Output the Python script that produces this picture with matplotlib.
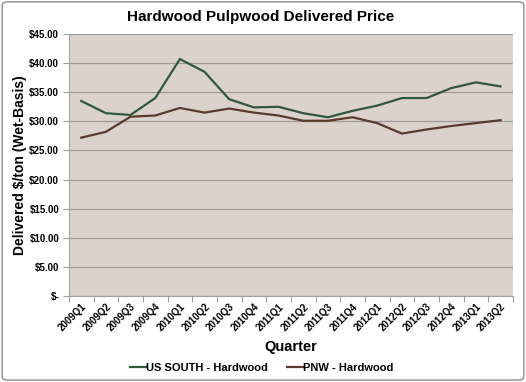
import numpy as np
import matplotlib.pyplot as plt
from matplotlib.patches import FancyBboxPatch

quarters = ['2009Q1', '2009Q2', '2009Q3', '2009Q4', '2010Q1', '2010Q2', '2010Q3', '2010Q4',
            '2011Q1', '2011Q2', '2011Q3', '2011Q4', '2012Q1', '2012Q2', '2012Q3', '2012Q4',
            '2013Q1', '2013Q2']
us_south = [33.5, 31.4, 31.1, 34.0, 40.7, 38.5, 33.8, 32.4, 32.5, 31.4, 30.7, 31.8,
            32.7, 34.0, 34.0, 35.7, 36.7, 36.0]
pnw = [27.2, 28.2, 30.8, 31.0, 32.3, 31.5, 32.2, 31.5, 31.0, 30.1, 30.1, 30.7,
       29.7, 27.9, 28.6, 29.2, 29.7, 30.2]
yticks = [0, 5, 10, 15, 20, 25, 30, 35, 40, 45]

plt.rcParams['font.family'] = ['Liberation Sans', 'DejaVu Sans']

fig = plt.figure(figsize=(5.26, 3.82), dpi=100)
border = FancyBboxPatch((0.004, 0.005), 0.992, 0.99, boxstyle='round,pad=0,rounding_size=0.01',
                        transform=fig.transFigure, fc='white', ec='#8c8c8c', lw=1.0, zorder=-10)
fig.patches.append(border)
ax = fig.add_axes([0.131, 0.225, 0.844, 0.686])
ax.set_facecolor('#dbd2cb')

x = np.arange(len(quarters))
ax.plot(x, us_south, color='#2d5a3c', lw=1.6, label='US SOUTH - Hardwood')
ax.plot(x, pnw, color='#5a3a2c', lw=1.6, label='PNW - Hardwood')

ax.set_xlim(-0.5, len(quarters) - 0.5)
ax.set_ylim(0, 45)
ax.set_yticks(yticks)
ax.set_yticklabels(['$-' if v == 0 else '$%.2f' % v for v in yticks], fontsize=7, fontweight='bold')
ax.yaxis.grid(True, color='#a09a96', lw=0.9)
ax.set_axisbelow(True)

# category boundaries get the ticks, labels sit in between
ax.set_xticks(np.arange(len(quarters) + 1) - 0.5, minor=False)
ax.set_xticklabels([])
ax.set_xticks(x, minor=True)
ax.set_xticklabels(quarters, minor=True, rotation=45, ha='right', rotation_mode='anchor',
                   fontsize=7, fontweight='bold')
ax.tick_params(axis='x', which='minor', length=0, pad=4)
ax.tick_params(axis='x', which='major', length=4, color='#a0a0a0', direction='out')
ax.tick_params(axis='y', length=4, color='#a0a0a0', pad=3)

for s in ['top', 'right']:
    ax.spines[s].set_visible(False)
for s in ['left', 'bottom']:
    ax.spines[s].set_color('#a0a0a0')

fig.text(0.496, 0.955, 'Hardwood Pulpwood Delivered Price', ha='center', va='center',
         fontsize=11, fontweight='bold')
ax.set_ylabel('Delivered $/ton (Wet-Basis)', fontsize=10, fontweight='bold', labelpad=2)
ax.set_xlabel('Quarter', fontsize=10.5, fontweight='bold', labelpad=5)
ax.legend(loc='center', bbox_to_anchor=(0.435, -0.275), ncol=2, frameon=False,
          prop={'size': 8, 'weight': 'bold'}, handlelength=1.4, handletextpad=0.05,
          columnspacing=1.7)

fig.savefig('out.png', dpi=100)
